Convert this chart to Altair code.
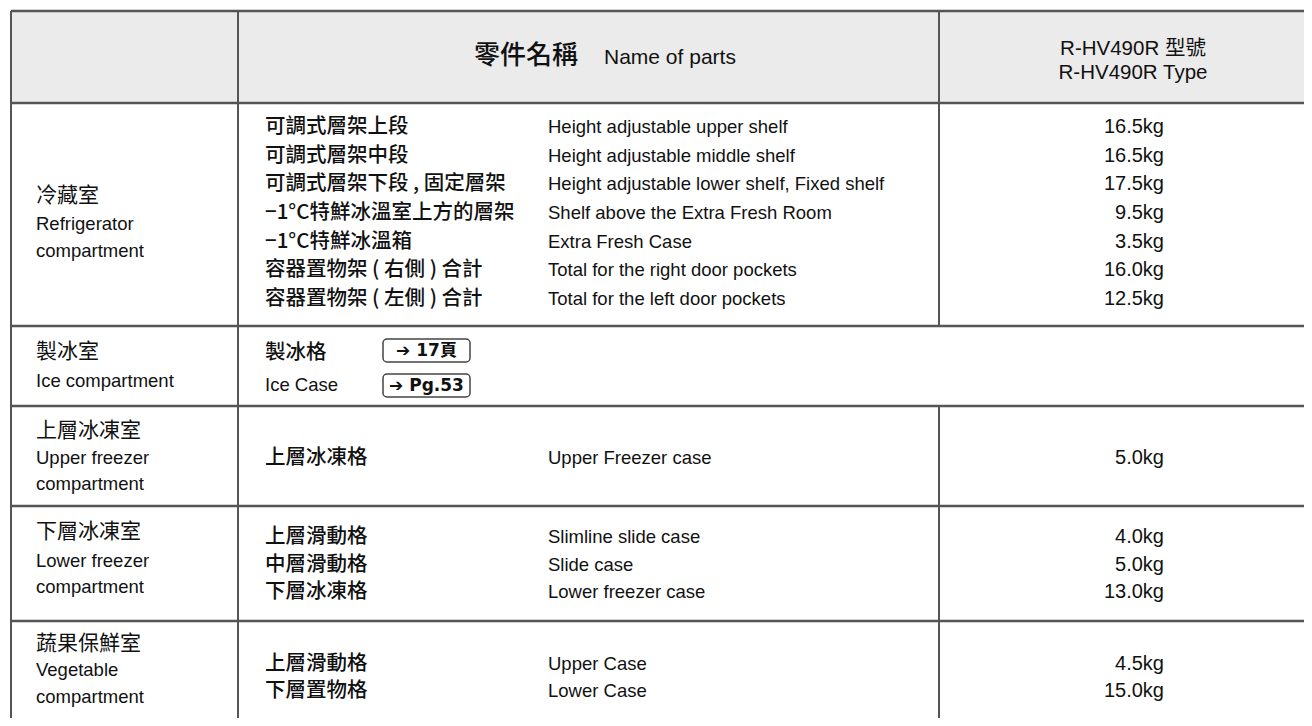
import altair as alt
import pandas as pd

# ---------------- data (text content) ----------------
header_parts_zh = "零件名稱"
header_parts_en = "Name of parts"
header_model = ["R-HV490R  型號", "R-HV490R  Type"]

comp_zh = ["冷藏室", "製冰室", "上層冰凍室", "下層冰凍室", "蔬果保鮮室"]
comp_en = [["Refrigerator", "compartment"], ["Ice compartment"],
           ["Upper freezer", "compartment"], ["Lower freezer", "compartment"],
           ["Vegetable", "compartment"]]

fridge_zh = ["可調式層架上段", "可調式層架中段", "可調式層架下段 , 固定層架",
             "−1°C特鮮冰溫室上方的層架", "−1°C特鮮冰溫箱",
             "容器置物架 ( 右側 ) 合計", "容器置物架 ( 左側 ) 合計"]
fridge_en = ["Height adjustable upper shelf", "Height adjustable middle shelf",
             "Height adjustable lower shelf, Fixed shelf", "Shelf above the Extra Fresh Room",
             "Extra Fresh Case", "Total for the right door pockets", "Total for the left door pockets"]
fridge_kg = ["16.5kg", "16.5kg", "17.5kg", "9.5kg", "3.5kg", "16.0kg", "12.5kg"]

ice_zh = "製冰格"
ice_en = "Ice Case"
ice_refs = ["➔ 17頁", "➔ Pg.53"]

upper_zh = ["上層冰凍格"]
upper_en = ["Upper Freezer case"]
upper_kg = ["5.0kg"]

lower_zh = ["上層滑動格", "中層滑動格", "下層冰凍格"]
lower_en = ["Slimline slide case", "Slide case", "Lower freezer case"]
lower_kg = ["4.0kg", "5.0kg", "13.0kg"]

veg_zh = ["上層滑動格", "下層置物格"]
veg_en = ["Upper Case", "Lower Case"]
veg_kg = ["4.5kg", "15.0kg"]

# ---------------- layout (page pixels) ----------------
OFF = 8
W, H = 1296, 710
X_LEFT, X_DIV1, X_DIV2, X_RIGHT = 11, 238, 939, 1304
Y_TOP, Y_HEAD = 11, 103
ROW_BOUNDS = [103, 326, 406, 506, 621]
Y_BOTTOM = 718

X_COMP, X_NAME_ZH, X_NAME_EN, X_KG = 36, 265, 548, 1164

comp_y = [[196, 224, 251], [352, 381], [431, 458, 484], [532, 561, 587], [644, 670, 697]]
fridge_y = [127 + 28.67 * i for i in range(7)]
upper_y = [458]
lower_y = [537, 565, 592]
veg_y = [664, 691]
ice_y = [353, 385]
box_x = (383, 470)
box_y = [(339, 362), (374, 397)]

EN_FONT = "Liberation Sans"
ZH_FONT = "Noto Sans CJK TC"
MIX_FONT = "Liberation Sans, Noto Sans CJK TC"
REF_FONT = "DejaVu Sans, Liberation Sans, Noto Sans CJK TC"

xs = alt.Scale(domain=[0, W], range=[0, W])
ys = alt.Scale(domain=[0, H], reverse=True)


def px(v):
    return v - OFF


def text_layer(rows, font, size, weight="normal", align="left", color="#111"):
    df = pd.DataFrame(rows, columns=["t", "x", "y"])
    df["x"] = df["x"].map(px)
    df["y"] = df["y"].map(px)
    return alt.Chart(df).mark_text(
        font=font, fontSize=size, fontWeight=weight, align=align,
        baseline="middle", color=color
    ).encode(
        x=alt.X("x:Q", scale=xs, axis=None),
        y=alt.Y("y:Q", scale=ys, axis=None),
        text="t:N",
    )


# header background
head_df = pd.DataFrame([{"x": px(X_LEFT), "x2": px(X_RIGHT), "y": px(Y_TOP), "y2": px(Y_HEAD)}])
head_bg = alt.Chart(head_df).mark_rect(color="#ebebeb").encode(
    x=alt.X("x:Q", scale=xs, axis=None), x2="x2:Q",
    y=alt.Y("y:Q", scale=ys, axis=None), y2="y2:Q")

# grid lines
hlines = [Y_TOP, Y_HEAD] + ROW_BOUNDS[1:]
lines = [{"x": px(X_LEFT), "x2": px(X_RIGHT), "y": px(v), "y2": px(v)} for v in hlines]
vl = [{"x": px(v), "x2": px(v), "y": px(Y_TOP), "y2": px(Y_BOTTOM)} for v in (X_LEFT, X_DIV1)]
vl.append({"x": px(X_DIV2), "x2": px(X_DIV2), "y": px(Y_TOP), "y2": px(ROW_BOUNDS[1])})
vl.append({"x": px(X_DIV2), "x2": px(X_DIV2), "y": px(ROW_BOUNDS[2]), "y2": px(Y_BOTTOM)})
hl_chart = alt.Chart(pd.DataFrame(lines)).mark_rule(color="#555555", strokeWidth=2.5).encode(
    x=alt.X("x:Q", scale=xs, axis=None), x2="x2:Q",
    y=alt.Y("y:Q", scale=ys, axis=None), y2="y2:Q")
vl_chart = alt.Chart(pd.DataFrame(vl)).mark_rule(color="#555555", strokeWidth=2).encode(
    x=alt.X("x:Q", scale=xs, axis=None), x2="x2:Q",
    y=alt.Y("y:Q", scale=ys, axis=None), y2="y2:Q")

# reference boxes
box_df = pd.DataFrame([{"x": px(box_x[0]), "x2": px(box_x[1]), "y": px(a), "y2": px(b)} for a, b in box_y])
boxes = alt.Chart(box_df).mark_rect(fill="white", stroke="#444", strokeWidth=1.5, cornerRadius=4).encode(
    x=alt.X("x:Q", scale=xs, axis=None), x2="x2:Q",
    y=alt.Y("y:Q", scale=ys, axis=None), y2="y2:Q")

# texts
layers = [head_bg, hl_chart, vl_chart, boxes]

layers.append(text_layer([(header_parts_zh, 474, 56)], ZH_FONT, 26, 500))
layers.append(text_layer([(header_parts_en, 604, 58)], EN_FONT, 21))
layers.append(text_layer([(header_model[0], 1133, 49), (header_model[1], 1133, 73)], MIX_FONT, 20.5, align="center"))

comp_zh_rows, comp_en_rows = [], []
for zh, en, ys_ in zip(comp_zh, comp_en, comp_y):
    comp_zh_rows.append((zh, X_COMP, ys_[0]))
    for t, y in zip(en, ys_[1:]):
        comp_en_rows.append((t, X_COMP, y))
layers.append(text_layer(comp_zh_rows, ZH_FONT, 21))
layers.append(text_layer(comp_en_rows, EN_FONT, 18.5))

name_zh_rows, name_en_rows, kg_rows = [], [], []
for zl, el, kl, yl in [(fridge_zh, fridge_en, fridge_kg, fridge_y), (upper_zh, upper_en, upper_kg, upper_y),
                       (lower_zh, lower_en, lower_kg, lower_y), (veg_zh, veg_en, veg_kg, veg_y)]:
    for z, e, k, y in zip(zl, el, kl, yl):
        name_zh_rows.append((z, X_NAME_ZH, y))
        name_en_rows.append((e, X_NAME_EN, y))
        kg_rows.append((k, X_KG, y))
name_zh_rows.append((ice_zh, X_NAME_ZH, ice_y[0]))
layers.append(text_layer(name_zh_rows, ZH_FONT, 20.5, 500))
name_en_rows.append((ice_en, X_NAME_ZH, ice_y[1]))
layers.append(text_layer(name_en_rows, EN_FONT, 18.5))
layers.append(text_layer(kg_rows, EN_FONT, 20, align="right"))

ref_rows = [(t, (box_x[0] + box_x[1]) / 2, (a + b) / 2 + 0.5) for t, (a, b) in zip(ice_refs, box_y)]
layers.append(text_layer(ref_rows, REF_FONT, 17, "bold", align="center"))

chart = alt.layer(*layers).properties(
    width=W, height=H, padding=0, autosize=alt.AutoSizeParams(type="none")
).configure_view(stroke=None)

chart.save("out.html", embed_options={"renderer": "svg", "actions": False})
